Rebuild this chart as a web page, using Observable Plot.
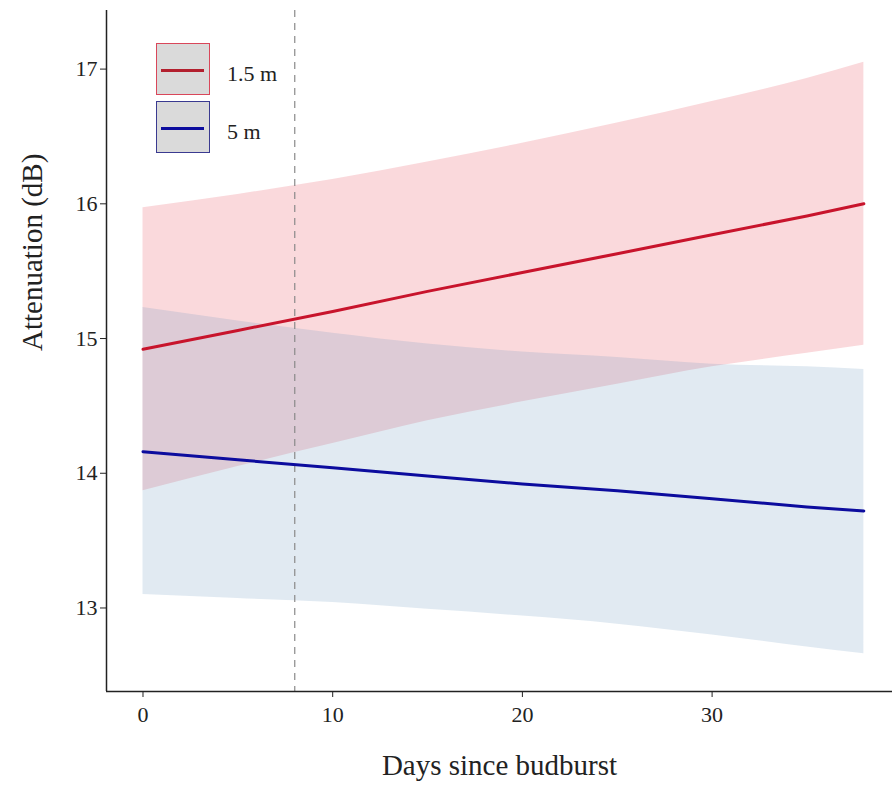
<!DOCTYPE html>
<html>
<head>
<meta charset="utf-8">
<script src="https://cdn.jsdelivr.net/npm/d3@7"></script>
<script src="https://cdn.jsdelivr.net/npm/@observablehq/plot@0.6"></script>
<style>
  html, body { margin: 0; padding: 0; background: #fff; }
  #wrap { position: relative; width: 892px; height: 791px; }
  #legend { position: absolute; left: 0; top: 0; }
  .key { position: absolute; left: 156px; width: 54px; height: 52px; box-sizing: border-box; background: #dadada; }
  .keyline { position: absolute; left: 4px; width: 43px; height: 3px; top: 25px; }
  .lab { position: absolute; left: 227px; font-family: "Liberation Serif", "Times New Roman", serif; font-size: 22px; color: #222; line-height: 1; white-space: nowrap; }
</style>
</head>
<body>
<div id="wrap"><div id="chart"></div><div id="legend"></div></div>
<script>
// ---- data ----
const days = [0, 5, 10, 15, 20, 25, 30, 35, 38];

const fit15 = [14.92, 15.06, 15.20, 15.35, 15.49, 15.63, 15.77, 15.91, 16.00];
const lo15  = [13.87, 14.05, 14.22, 14.39, 14.53, 14.66, 14.79, 14.89, 14.95];
const hi15  = [15.97, 16.07, 16.18, 16.31, 16.45, 16.60, 16.76, 16.93, 17.05];

const fit5 = [14.16, 14.10, 14.04, 13.98, 13.92, 13.87, 13.81, 13.75, 13.72];
const lo5  = [13.10, 13.07, 13.04, 12.99, 12.94, 12.88, 12.80, 12.71, 12.66];
const hi5  = [15.23, 15.13, 15.04, 14.96, 14.90, 14.86, 14.81, 14.79, 14.77];

const seriesLabels = ["1.5 m", "5 m"];
const budburstDay = [8];
const xTicks = [0, 10, 20, 30];
const yTicks = [13, 14, 15, 16, 17];
const xTitle = "Days since budburst";
const yTitle = "Attenuation (dB)";

// ---- styling ----
const redLine = "#c8142c", blueLine = "#0c0c9e";
const redFill = "#e6414f", blueFill = "#6a98c0";
const font = "Liberation Serif, Times New Roman, serif";

const mk = (fit, lo, hi, s) => days.map((d, i) => ({day: d, fit: fit[i], lo: lo[i], hi: hi[i], series: s}));
const d15 = mk(fit15, lo15, hi15, seriesLabels[0]);
const d5  = mk(fit5, lo5, hi5, seriesLabels[1]);

const xDom = [-1.924, 39.51];
const yDom = [12.38, 17.435];

const chart = Plot.plot({
  width: 892, height: 791,
  marginLeft: 106, marginRight: 0, marginTop: 10, marginBottom: 100,
  x: {domain: xDom},
  y: {domain: yDom},
  style: {fontFamily: font, background: "white", color: "#222"},
  marks: [
    Plot.areaY(d15, {x: "day", y1: "lo", y2: "hi", fill: redFill, fillOpacity: 0.2, curve: "monotone-x"}),
    Plot.areaY(d5, {x: "day", y1: "lo", y2: "hi", fill: blueFill, fillOpacity: 0.2, curve: "monotone-x"}),
    Plot.ruleX(budburstDay, {stroke: "#8a8a8a", strokeWidth: 1.2, strokeDasharray: "7,6"}),
    Plot.lineY(d15, {x: "day", y: "fit", stroke: redLine, strokeWidth: 3}),
    Plot.lineY(d5, {x: "day", y: "fit", stroke: blueLine, strokeWidth: 3}),
    Plot.ruleX([xDom[0]], {stroke: "#222", strokeWidth: 1.5}),
    Plot.ruleY([yDom[0]], {stroke: "#222", strokeWidth: 1.5}),
    Plot.axisX({ticks: xTicks, tickSize: 6, tickPadding: 9, fontSize: 22, label: null, stroke: "#222", tickFormat: d3.format("d")}),
    Plot.axisY({ticks: yTicks, tickSize: 6, tickPadding: 3, fontSize: 22, label: null, stroke: "#222", tickFormat: d3.format("d")}),
    Plot.text([xTitle], {frameAnchor: "bottom", dy: 83, fontSize: 29, fill: "#222"}),
    Plot.text([yTitle], {frameAnchor: "left", dx: -74, rotate: -90, fontSize: 29, fill: "#222"})
  ]
});
document.getElementById("chart").appendChild(chart);

// ---- legend ----
const legend = document.getElementById("legend");
const keys = [
  {label: seriesLabels[0], top: 43, border: "#d9475a", line: "#b3202e"},
  {label: seriesLabels[1], top: 101, border: "#3a3a90", line: blueLine}
];
keys.forEach(k => {
  const box = document.createElement("div");
  box.className = "key";
  box.style.top = k.top + "px";
  box.style.border = "1.5px solid " + k.border;
  const ln = document.createElement("div");
  ln.className = "keyline";
  ln.style.background = k.line;
  box.appendChild(ln);
  legend.appendChild(box);
  const t = document.createElement("div");
  t.className = "lab";
  t.textContent = k.label;
  t.style.top = (k.top + 20) + "px";
  legend.appendChild(t);
});
</script>
</body>
</html>
